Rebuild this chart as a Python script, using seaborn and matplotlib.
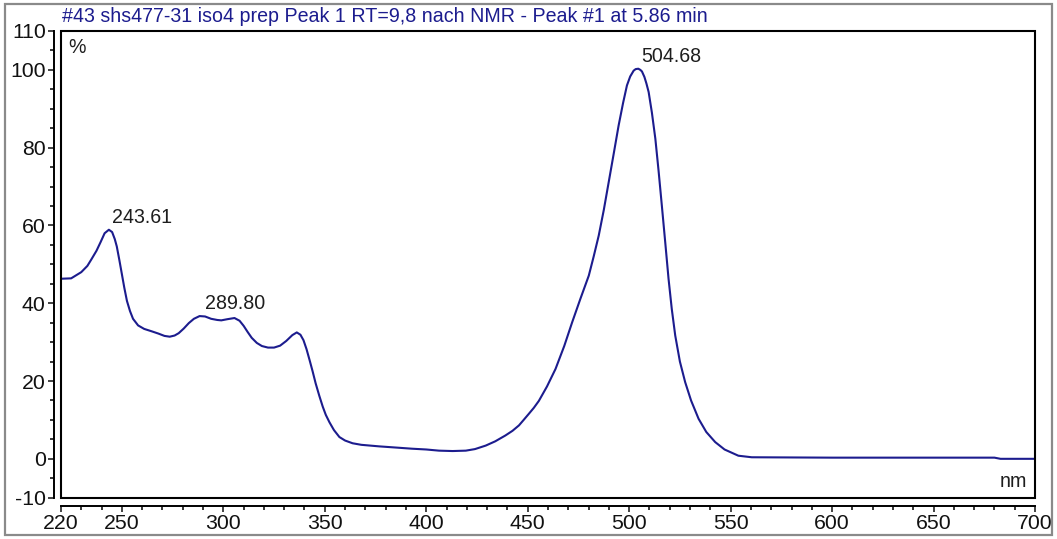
import matplotlib.pyplot as plt
import numpy as np
import pandas as pd
import seaborn as sns
from matplotlib.patches import Rectangle
from matplotlib.ticker import MultipleLocator

# UV/Vis spectrum
wavelength = [220, 225, 230, 233, 235, 237.5, 239.5, 241.5, 243.6, 245.2, 246.5, 247.5,
              248.8, 250, 251.2, 252.5, 254, 255.5, 258, 261, 264.6, 268, 271, 273.6, 276,
              278, 280.5, 283, 285.5, 288.3, 291, 294, 297, 299, 302, 305.5, 308, 310,
              312, 314, 316.5, 319, 322, 325, 328, 331, 334, 336.2, 338, 339.5, 341,
              342.5, 344, 345.5, 347.3, 349, 350.5, 352.3, 354.5, 357.2, 360, 363.7, 368,
              376.8, 385, 393, 400, 406.3, 413, 419.5, 424, 429.3, 434, 439, 442.5, 445.7,
              448, 450.6, 453, 455.5, 459.5, 463.7, 468, 471.9, 476, 480.1, 482.5, 485,
              487.5, 489.9, 492.5, 494.8, 497, 498.9, 500.5, 502.2, 503.2, 504.5, 505.5,
              506.3, 507.5, 508.5, 509.6, 511.2, 512.9, 514.5, 516.1, 517.8, 519.4, 521,
              522.7, 525, 527.6, 530.5, 534.2, 538, 542.4, 547, 553.8, 560.4, 600, 650,
              680, 683, 700]
absorbance = [46.3, 46.4, 48.0, 49.6, 51.3, 53.5, 55.7, 58.0, 58.9, 58.3, 56.5, 54.6,
              51.0, 47.5, 44.0, 40.6, 38.0, 36.0, 34.3, 33.4, 32.8, 32.2, 31.6, 31.4, 31.7,
              32.3, 33.5, 34.9, 36.0, 36.7, 36.6, 36.0, 35.7, 35.6, 35.9, 36.2, 35.5, 34.2,
              32.6, 31.1, 29.8, 29.0, 28.6, 28.6, 29.1, 30.3, 31.8, 32.5, 31.9, 30.5, 28.2,
              25.4, 22.5, 19.4, 16.2, 13.4, 11.3, 9.4, 7.4, 5.6, 4.7, 4.0, 3.6,
              3.2, 2.9, 2.6, 2.4, 2.1, 2.0, 2.1, 2.5, 3.4, 4.5, 6.0, 7.2, 8.6,
              10.0, 11.6, 13.1, 14.9, 18.6, 23.1, 29.0, 35.1, 41.2, 47.1, 52.0, 57.4,
              64.0, 71.1, 78.8, 85.7, 91.5, 96.0, 98.3, 99.8, 100.2, 100.3, 100.0,
              99.6, 98.2, 96.5, 94.3, 89.0, 82.3, 74.0, 65.1, 55.5, 46.3, 38.5,
              31.7, 25.0, 19.7, 15.0, 10.3, 6.9, 4.3, 2.4, 0.8, 0.4, 0.3, 0.3,
              0.3, 0.0, 0.0]

peak_wl = [243.61, 289.80, 504.68]
peak_height = [58.9, 36.7, 100.3]
peak_labels = ['243.61', '289.80', '504.68']

y_ticks = [-10, 0, 20, 40, 60, 80, 100, 110]
x_ticks = [220, 250, 300, 350, 400, 450, 500, 550, 600, 650, 700]

title = '#43 shs477-31 iso4 prep Peak 1 RT=9,8 nach NMR - Peak #1 at 5.86 min'

sns.set_style('ticks')
plt.rcParams['font.family'] = ['Liberation Sans', 'DejaVu Sans']
plt.rcParams['axes.unicode_minus'] = False

navy = '#1c1c8e'
fs = 14.1

df = pd.DataFrame({'nm': wavelength, 'pct': absorbance})

fig = plt.figure(figsize=(10.57, 5.39), dpi=100)
ax = fig.add_axes([0.0577, 0.0766, 0.9215, 0.8659])

sns.lineplot(data=df, x='nm', y='pct', ax=ax, color=navy, linewidth=1.5)

ax.set_xlim(220, 700)
ax.set_ylim(-10, 110)
ax.set_xticks(x_ticks)
ax.set_yticks(y_ticks)
ax.xaxis.set_minor_locator(MultipleLocator(10))
ax.yaxis.set_minor_locator(MultipleLocator(5))
ax.set_xlabel('')
ax.set_ylabel('')

# detached axis lines like the instrument software draws them
for side in ['top', 'right']:
    ax.spines[side].set_visible(False)
ax.spines['left'].set_position(('outward', 5))
ax.spines['bottom'].set_position(('outward', 6))
for side in ['left', 'bottom']:
    ax.spines[side].set_linewidth(1.4)
    ax.spines[side].set_color('black')

ax.tick_params(which='major', direction='out', length=4.5, width=1.1,
               labelsize=15.3, colors='#111111', pad=1.5)
ax.tick_params(which='minor', direction='out', length=3, width=1.1, colors='black')

ax.add_patch(Rectangle((0, 0), 1, 1, transform=ax.transAxes, fill=False,
                       edgecolor='black', linewidth=1.5, clip_on=False, zorder=5))

for wl, h, lab in zip(peak_wl, peak_height, peak_labels):
    ax.annotate(lab, xy=(wl, h), xytext=(2, 5), textcoords='offset points',
                ha='left', va='baseline', fontsize=fs, color='#1e1e1e')

ax.text(0.007, 0.965, '%', transform=ax.transAxes, ha='left', va='center',
        fontsize=fs, color='#1e1e1e')
ax.text(0.992, 0.035, 'nm', transform=ax.transAxes, ha='right', va='center',
        fontsize=fs, color='#1e1e1e')

fig.text(62 / 1057, 1 - 17 / 539, title, ha='left', va='center', fontsize=fs, color=navy)

fig.patches.append(Rectangle((0.005, 0.007), 0.99, 0.986, transform=fig.transFigure,
                             fill=False, edgecolor='#8a8a8a', linewidth=1.6))

plt.savefig('out.png', dpi=100)
